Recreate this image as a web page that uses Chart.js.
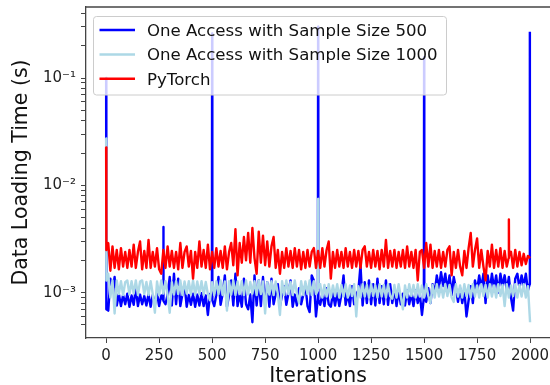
<!DOCTYPE html>
<html>
<head>
<meta charset="utf-8">
<script src="https://cdn.jsdelivr.net/npm/chart.js@4"></script>
<style>
  html, body { margin: 0; padding: 0; background: #fff; }
  canvas { display: block; }
</style>
</head>
<body>
<canvas id="loading" width="550" height="385"></canvas>
<script>
// one reading every 10 iterations, values in milliseconds
// (null where the iteration is covered by a spike list below)
const step = 10;

const blue500Ms = [
  null, 0.68, 1.35, 1.05, 1.4, 0.76, 0.97, 0.75, 0.95, 0.78, 0.98, 0.74, 0.94, 0.77, 1.1, 0.75, 0.96, 0.78, 0.93, 0.76,
  0.97, 0.74, 0.95, 0.77, 0.99, 0.75, 0.94, null, 0.78, 0.96, 1.4, 0.76, 1.5, 0.78, 1.35, 0.75, 0.97, 1.2, 0.74, 0.95,
  0.77, 0.98, 0.74, 0.96, 0.76, 0.99, 0.75, 0.94, 0.62, 0.97, null, 0.75, 0.96, 1.4, 0.77, 0.98, 1.45, 0.74, 0.95, 1.3,
  0.76, 1.5, 0.75, 0.97, 0.74, 1.35, 0.78, 0.7, 0.96, 0.53, 1.45, 0.76, 1.3, 0.75, 1.4, 0.77, 1.25, 0.74, 1.35, 0.78,
  0.97, 1.2, 0.75, 0.95, 1.15, 0.77, 0.98, 1.3, 0.74, 0.96, 0.76, 1.1, 0.78, 0.95, 1.2, 0.75, 0.66, 1.45, 1.3, 0.6,
  null, 0.77, 0.98, 0.75, 1.1, 0.78, 0.74, 0.99, 0.76, 1.0, 0.75, 0.96, 1.45, 0.77, 0.98, 0.75, 1.15, 0.78, 0.97, 1.05,
  1.8, 0.76, 1.25, 0.8, 1.3, 0.78, 1.2, 0.76, 1.35, 0.8, 1.15, 0.78, 1.3, 0.77, 1.2, 0.8, 1.1, 0.75, 1.05, 0.78,
  0.98, 0.76, 1.05, 0.78, 0.99, 0.75, 1.05, 0.8, 0.97, 0.62, null, 0.82, 1.1, 0.8, 1.2, 1.0, 1.45, 1.1, 1.55, 1.15,
  1.5, 1.05, 1.45, 0.95, 1.4, 1.1, 0.82, 1.1, 0.8, 1.05, 0.6, 0.85, 1.15, 0.8, 1.3, 1.05, 1.45, 1.1, 1.5, 0.8,
  1.45, 1.05, 1.5, 1.1, 1.45, 1.0, 1.5, 1.15, 1.45, 1.05, 1.4, 0.9, 0.68, 1.35, 1.5, 1.1, 1.45, 1.15, 1.5, 1.05,
  null
];
const blue500Spikes = [
  [0, 100], [1, 0.7], [269, 0.86], [270, 4.1], [271, 0.84], [499, 0.88], [500, 260], [501, 0.85],
  [999, 0.9], [1000, 300], [1001, 0.86], [1499, 0.9], [1500, 156], [1501, 0.92], [1998, 1.2], [1999, 270],
];

const lightBlue1000Ms = [
  null, 1.5, 0.9, 1.3, 0.64, 1.3, 0.97, 1.28, 0.95, 1.25, 1.3, 0.96, 1.28, 0.98, 1.3, 0.95, 1.27, 1.3, 0.97, 1.26,
  0.95, 1.28, 0.97, 0.65, 1.27, 0.95, 1.3, 0.98, 1.28, 0.95, 0.65, 1.25, 0.96, 1.28, 0.97, 1.3, 0.95, 1.27, 0.98, 1.28,
  0.96, 1.3, 0.95, 1.27, 0.97, 1.28, 0.95, 1.26, 0.97, 0.85, 1.25, 0.95, 1.28, 0.97, 1.3, 0.95, 1.27, 0.68, 1.28, 0.96,
  1.3, 0.95, 1.27, 0.97, 1.28, 0.95, 1.3, 0.96, 1.26, 0.98, 1.28, 0.95, 1.3, 0.97, 1.27, 0.64, 1.25, 0.96, 1.28, 0.95,
  1.27, 0.97, 0.62, 1.28, 0.95, 1.3, 0.97, 1.26, 0.95, 1.3, 0.97, 0.8, 1.28, 0.95, 1.27, 0.97, 1.3, 0.95, 1.28, 0.97,
  null, 1.2, 0.9, 1.18, 0.92, 1.2, 0.9, 1.17, 0.93, 1.2, 0.9, 1.18, 0.92, 1.2, 0.9, 1.17, 0.93, 1.2, 0.6, 1.15,
  0.9, 1.2, 0.92, 1.18, 0.9, 1.2, 0.93, 1.17, 0.9, 1.2, 0.92, 1.18, 0.9, 1.2, 0.93, 0.88, 1.18, 0.9, 1.2, 0.92,
  0.7, 1.17, 0.9, 1.2, 0.93, 1.18, 0.9, 1.2, 0.92, 1.17, 0.9, 1.2, 0.93, 0.8, 1.18, 0.9, 1.2, 0.92, 1.17, 0.9,
  1.2, 0.93, 1.18, 0.9, 0.82, 1.2, 0.92, 1.17, 0.9, 1.2, 0.93, 1.18, 0.9, 1.2, 0.92, 1.17, 0.9, 1.2, 0.93, 1.18,
  0.9, 1.2, 0.92, 1.17, 0.9, 1.2, 0.93, 1.18, 0.75, 1.2, 0.9, 1.17, 0.93, 1.2, 0.9, 1.18, 0.92, 1.2, 0.9, 1.15,
  0.53
];
const lightBlue1000Spikes = [
  [0, 27.4], [1, 1.3], [999, 1.05], [1000, 7.45], [1001, 1.1],
];

const pytorchMs = [
  null, 2.9, 1.6, 2.7, 1.7, 2.5, 1.65, 2.6, 1.75, 2.4, 1.7, 2.5, 1.75, 2.8, 1.7, 2.4, 3.0, 1.65, 2.45, 1.7,
  3.1, 1.7, 2.4, 1.75, 2.6, 1.65, 1.5, 2.5, 1.7, 2.7, 1.75, 2.45, 1.7, 2.4, 1.65, 2.9, 1.7, 2.4, 2.7, 1.75,
  2.45, 1.35, 2.4, 1.7, 3.0, 1.75, 2.5, 1.7, 2.8, 1.65, 2.4, 1.7, 2.6, 1.75, 2.45, 1.7, 2.7, 1.65, 2.4, 2.9,
  1.8, 3.9, 1.45, 2.9, 1.9, 3.3, 2.0, 3.6, 1.9, 4.0, 2.1, 1.5, 3.7, 1.9, 3.4, 1.8, 3.0, 1.75, 2.7, 3.3,
  1.7, 2.5, 1.5, 2.4, 1.7, 2.6, 1.75, 2.45, 1.7, 2.6, 1.75, 2.5, 1.65, 2.4, 1.7, 2.5, 1.75, 2.4, 2.6, 1.7,
  2.45, 1.7, 2.6, 1.75, 2.5, 3.0, 1.35, 2.4, 1.7, 2.5, 1.75, 2.4, 1.7, 2.6, 1.75, 2.4, 1.7, 2.5, 1.75, 2.45,
  1.7, 2.5, 2.7, 1.75, 2.4, 1.7, 2.5, 1.75, 2.45, 1.65, 2.5, 1.75, 3.1, 1.7, 2.45, 1.75, 2.5, 1.7, 2.4, 1.75,
  2.5, 1.7, 2.7, 1.75, 2.4, 1.7, 2.5, 1.3, 2.4, 2.5, 1.7, 2.9, 1.75, 2.8, 1.7, 2.45, 1.75, 2.5, 1.7, 2.4,
  1.75, 2.5, 2.7, 1.45, 2.4, 1.7, 2.5, 1.75, 1.45, 2.45, 1.7, 2.6, 3.6, 1.75, 2.5, 3.2, 1.7, 2.5, 1.75, 1.3,
  2.45, 1.75, 2.8, 1.7, 2.5, 1.75, 2.6, 1.7, 2.45, 1.75, null, 2.4, 1.7, 2.5, 1.75, 2.4, 1.8, 2.3, 1.85, 2.2,
  2.1
];
const pytorchSpikes = [
  [0, 22.6], [1, 2.5], [1899, 2.1], [1900, 4.8], [1901, 2.2],
];

const xTickValues = [0, 250, 500, 750, 1000, 1250, 1500, 1750, 2000];

const seriesLabels = [
  "One Access with Sample Size 500",
  "One Access with Sample Size 1000",
  "PyTorch",
];
const seriesColors = ["#0000ff", "#add8e6", "#ff0000"];

const FONT = "DejaVu Sans";
const AXIS = "#444";

// merge the sampled readings with the spike readings, ms -> seconds
function toPoints(values, spikes) {
  const pts = [];
  values.forEach((v, i) => {
    if (v !== null) pts.push({ x: i * step, y: v / 1000 });
  });
  spikes.forEach(([x, v]) => pts.push({ x, y: v / 1000 }));
  return pts.sort((a, b) => a.x - b.x);
}

const SUP = { "-": "\u207b", "0": "\u2070", "1": "\u00b9", "2": "\u00b2", "3": "\u00b3", "4": "\u2074" };
function powerLabel(value) {
  const exp = Math.round(Math.log10(value));
  if (Math.abs(value / Math.pow(10, exp) - 1) > 1e-6) return "";
  return "10" + String(exp).split("").map((c) => SUP[c]).join("");
}

// legend box drawn inside the plot, like matplotlib's upper-left legend
const boxLegend = {
  id: "boxLegend",
  afterDraw(chart) {
    const ctx = chart.ctx;
    ctx.save();
    ctx.beginPath();
    ctx.roundRect(93.5, 16.5, 353, 78.5, 3);
    ctx.fillStyle = "rgba(255,255,255,0.8)";
    ctx.fill();
    ctx.strokeStyle = "#cccccc";
    ctx.lineWidth = 1;
    ctx.stroke();

    ctx.font = "16.6px '" + FONT + "'";
    ctx.textBaseline = "alphabetic";
    chart.data.datasets.forEach((ds, i) => {
      const y = 30 + i * 24.4;
      ctx.strokeStyle = ds.borderColor;
      ctx.lineWidth = 2.5;
      ctx.beginPath();
      ctx.moveTo(99.5, y);
      ctx.lineTo(135, y);
      ctx.stroke();
      ctx.fillStyle = "#111";
      ctx.fillText(ds.label, 147, y + 6);
    });
    ctx.restore();
  },
};

// top spine of the axes frame
const topSpine = {
  id: "topSpine",
  afterDraw(chart) {
    const { ctx, chartArea } = chart;
    ctx.save();
    ctx.strokeStyle = AXIS;
    ctx.lineWidth = 1.3;
    ctx.beginPath();
    ctx.moveTo(chartArea.left, chartArea.top);
    ctx.lineTo(chartArea.right, chartArea.top);
    ctx.stroke();
    ctx.restore();
  },
};

const ctx = document.getElementById("loading");

new Chart(ctx, {
  type: "line",
  data: {
    datasets: [
      { label: seriesLabels[0], data: toPoints(blue500Ms, blue500Spikes), borderColor: seriesColors[0], order: 3 },
      { label: seriesLabels[1], data: toPoints(lightBlue1000Ms, lightBlue1000Spikes), borderColor: seriesColors[1], order: 2 },
      { label: seriesLabels[2], data: toPoints(pytorchMs, pytorchSpikes), borderColor: seriesColors[2], order: 1 },
    ],
  },
  options: {
    responsive: false,
    animation: false,
    layout: { padding: { top: 7, left: 0, right: 0, bottom: 0 } },
    elements: {
      line: { borderWidth: 2.4, tension: 0, borderJoinStyle: "round" },
      point: { radius: 0 },
    },
    plugins: {
      legend: { display: false },
      tooltip: { enabled: false },
    },
    scales: {
      x: {
        type: "linear",
        min: -95,
        max: 2094,
        afterFit: (scale) => {
          scale.height = 47;
          scale.paddingLeft = 0;
          scale.paddingRight = 0;
        },
        afterBuildTicks: (scale) => {
          scale.ticks = xTickValues.map((v) => ({ value: v }));
        },
        border: { color: AXIS, width: 1.3 },
        grid: { drawOnChartArea: false, tickLength: 5, tickColor: AXIS },
        ticks: {
          autoSkip: false,
          maxRotation: 0,
          padding: 4,
          color: "#222",
          font: { family: FONT, size: 15 },
          callback: (value) => String(value),
        },
        title: {
          display: true,
          text: "Iterations",
          color: "#111",
          font: { family: FONT, size: 20.5, lineHeight: 1 },
          padding: { top: 0, bottom: -2 },
        },
      },
      y: {
        type: "logarithmic",
        min: 3.78e-4,
        max: 0.459,
        afterFit: (scale) => {
          scale.width = 86;
          scale.paddingTop = 0;
          scale.paddingBottom = 0;
        },
        afterBuildTicks: (scale) => {
          scale.ticks = scale.ticks.filter((t) => {
            const s = t.value / Math.pow(10, Math.floor(Math.log10(t.value) + 1e-9));
            return Math.abs(s - Math.round(s)) < 1e-6;
          });
        },
        border: { color: AXIS, width: 1.3 },
        grid: { drawOnChartArea: false, tickLength: 5, tickColor: AXIS },
        ticks: {
          autoSkip: false,
          padding: 5,
          color: "#222",
          font: { family: FONT, size: 15 },
          callback: (value) => powerLabel(value),
        },
        title: {
          display: true,
          text: "Data Loading Time (s)",
          color: "#111",
          font: { family: FONT, size: 20.5, lineHeight: 1 },
          padding: { top: 11, bottom: 0 },
        },
      },
    },
  },
  plugins: [boxLegend, topSpine],
});
</script>
</body>
</html>
